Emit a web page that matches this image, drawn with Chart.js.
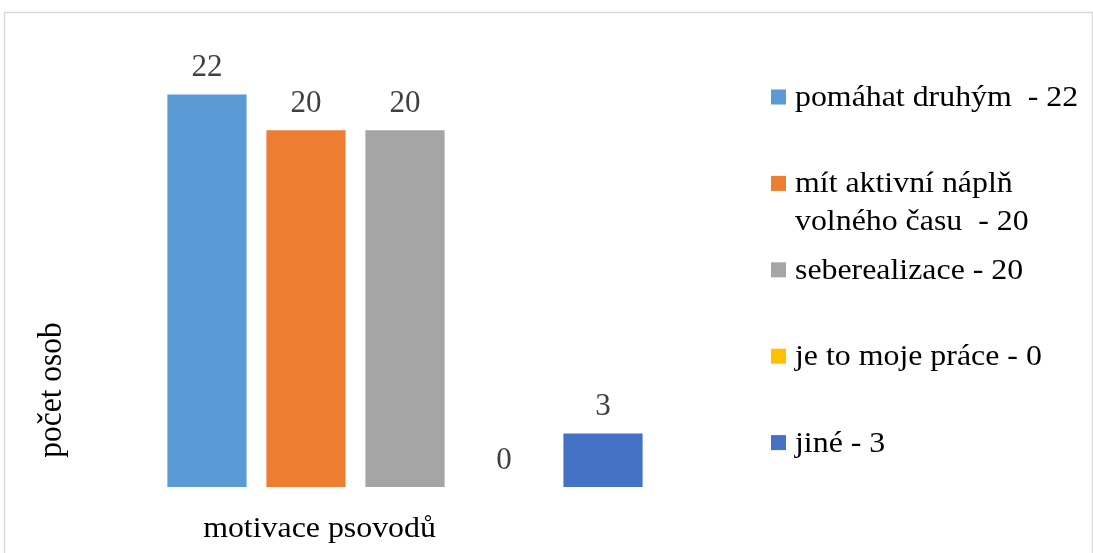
<!DOCTYPE html>
<html lang="cs">
<head>
<meta charset="utf-8">
<title>motivace psovodů</title>
<script src="https://cdn.jsdelivr.net/npm/chart.js@4.4.1/dist/chart.umd.min.js"></script>
<style>
  html, body { margin: 0; padding: 0; background: #ffffff; }
  #wrap { position: relative; width: 1093px; height: 553px; }
</style>
</head>
<body>
<div id="wrap"><canvas id="chart"></canvas></div>
<script>
// Data
const categories = [''];
const seriesNames = [
  'pomáhat druhým ',
  'mít aktivní náplň\nvolného času ',
  'seberealizace',
  'je to moje práce',
  'jiné'
];
const seriesValues = [22, 20, 20, 0, 3];
const seriesColors = ['#5B9BD5', '#ED7D31', '#A5A5A5', '#FFC000', '#4472C4'];
const xTitle = 'motivace psovodů';
const yTitle = 'počet osob';
const yMax = 25;

const SERIF = '"Liberation Serif", "Times New Roman", serif';
const STRETCH = 1.08; // horizontal widening of the serif text

// Draw text widened horizontally around (x, y)
function wideText(ctx, text, x, y, align, sx) {
  ctx.save();
  ctx.translate(x, y);
  ctx.scale(sx || STRETCH, 1);
  ctx.textAlign = align;
  ctx.fillText(text, 0, 0);
  ctx.restore();
}

const decorations = {
  id: 'decorations',
  beforeDraw(chart) {
    const ctx = chart.ctx;
    ctx.save();
    ctx.fillStyle = '#ffffff';
    ctx.fillRect(0, 0, chart.width, chart.height);
    ctx.strokeStyle = '#d9d9d9';
    ctx.lineWidth = 1.5;
    ctx.strokeRect(4.5, 12.5, chart.width - 5, chart.height + 20);
    ctx.restore();
  },
  afterDatasetsDraw(chart) {
    const ctx = chart.ctx;
    ctx.save();
    ctx.textBaseline = 'alphabetic';

    // value labels above each bar
    ctx.fillStyle = '#404040';
    ctx.font = '31px ' + SERIF;
    chart.data.datasets.forEach((ds, i) => {
      const bar = chart.getDatasetMeta(i).data[0];
      wideText(ctx, String(ds.data[0]), bar.x, bar.y - 18.5, 'center', 1.0);
    });

    // axis titles
    ctx.fillStyle = '#000000';
    ctx.font = '29.5px ' + SERIF;
    wideText(ctx, xTitle, 319.5, 537, 'center');

    ctx.save();
    ctx.font = '31.5px ' + SERIF;
    ctx.translate(61, 390);
    ctx.scale(1.1, 1);
    ctx.rotate(-Math.PI / 2);
    ctx.textAlign = 'center';
    ctx.fillText(yTitle, 0, 0);
    ctx.restore();

    // legend on the right
    ctx.font = '29.5px ' + SERIF;
    const boxX = 771, box = 15, textX = 795;
    const firstY = 97, step = 86.4, lineH = 37.6;
    chart.data.datasets.forEach((ds, i) => {
      const cy = firstY + i * step;
      ctx.fillStyle = ds.backgroundColor;
      ctx.fillRect(boxX, cy - box / 2, box, box);
      ctx.fillStyle = '#000000';
      const lines = (ds.label + ' - ' + ds.data[0]).split('\n');
      lines.forEach((ln, k) => wideText(ctx, ln, textX, cy + 9 + k * lineH, 'left'));
    });
    ctx.restore();
  }
};

new Chart(document.getElementById('chart'), {
  type: 'bar',
  data: {
    labels: categories,
    datasets: seriesNames.map((name, i) => ({
      label: name,
      data: [seriesValues[i]],
      backgroundColor: seriesColors[i],
      borderWidth: 0,
      barPercentage: 0.8,
      categoryPercentage: 1.0
    }))
  },
  options: {
    responsive: true,
    maintainAspectRatio: false,
    animation: false,
    layout: { padding: { left: 157.5, right: 440.5, top: 41, bottom: 66 } },
    plugins: {
      legend: { display: false },
      tooltip: { enabled: false },
      title: { display: false }
    },
    scales: {
      x: { display: false },
      y: { display: false, min: 0, max: yMax }
    }
  },
  plugins: [decorations]
});
</script>
</body>
</html>
